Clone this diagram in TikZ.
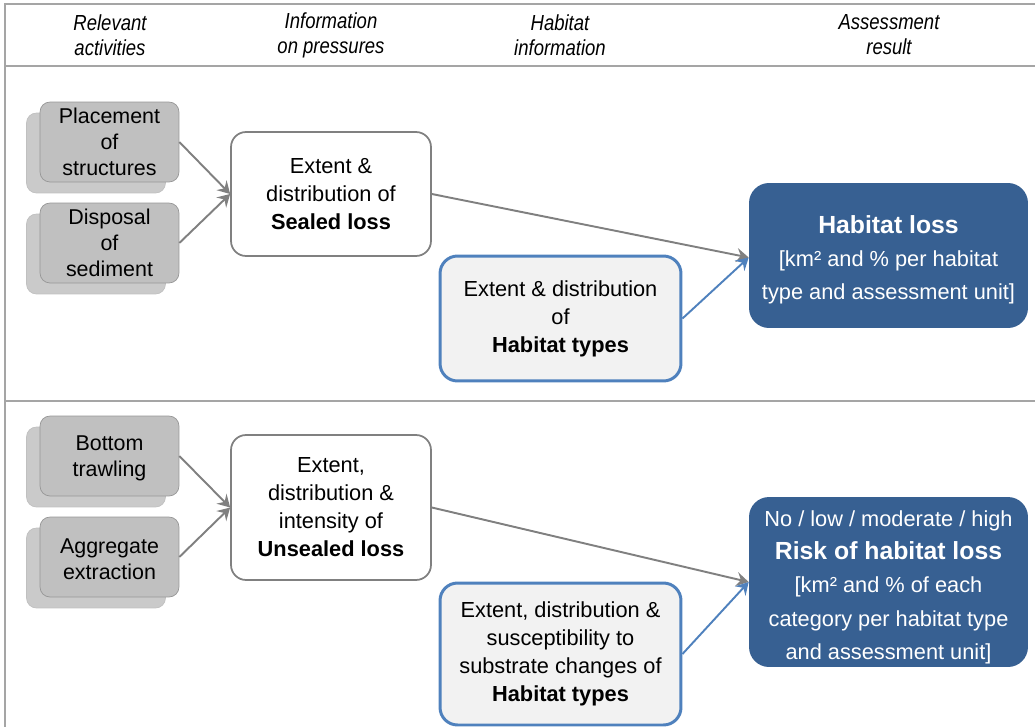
\documentclass[tikz,border=0pt]{standalone}
\usepackage{fontspec}
\setmainfont{Liberation Sans}
\newfontfamily\headfont[FakeStretch=0.85]{Liberation Sans}
\usepackage{tikz}
\usetikzlibrary{arrows,positioning,calc,arrows.meta}
\tikzset{>={Stealth[length=7pt,width=8pt,inset=2.5pt]}}
\definecolor{framegray}{RGB}{165,165,165}
\definecolor{arrgray}{RGB}{128,128,128}
\definecolor{actfill}{RGB}{192,192,192}
\definecolor{actback}{RGB}{202,202,202}
\definecolor{actline}{RGB}{150,150,150}
\definecolor{habblue}{RGB}{79,129,189}
\definecolor{resnavy}{RGB}{55,96,146}
\definecolor{habfill}{RGB}{242,242,242}
\colorlet{pressline}{arrgray}
\tikzset{
  actbox/.style={draw=actline,fill=actfill,rounded corners=0.2cm,minimum width=2.78cm,minimum height=1.6cm,inner sep=0pt,align=center,font=\fontsize{12.2}{14.7}\selectfont},
  actshadow/.style={actbox,draw=actline!60,fill=actback},
  pressbox/.style={draw=pressline,line width=1pt,fill=white,rounded corners=0.3cm,minimum width=4cm,inner sep=0pt,align=center,font=\fontsize{12.4}{15.9}\selectfont},
  habbox/.style={draw=habblue,line width=1.7pt,fill=habfill,rounded corners=0.35cm,minimum width=4.82cm,inner sep=0pt,align=center,font=\fontsize{12.4}{15.9}\selectfont},
  resbox/.style={fill=resnavy,text=white,rounded corners=0.4cm,minimum width=5.58cm,inner sep=0pt,align=center,font=\fontsize{12.4}{18.9}\selectfont},
  colhead/.style={align=center,font=\headfont\itshape\fontsize{12.4}{14.2}\selectfont},
  grayarr/.style={->,line width=1.1pt,arrgray},
  bluearr/.style={->,line width=1.1pt,habblue}
}
\begin{document}
\begin{tikzpicture}[x=0.02cm,y=-0.02cm]
    \useasboundingbox (0,0) rectangle (1035,727);
    % frame and rows
    \draw [framegray,line width=1.2pt] (1035,4) -- (5,4) -- (5,727);
    \draw [framegray,line width=1.2pt] (5,66) -- (1035,66);
    \draw [framegray,line width=1.2pt] (5,401) -- (1035,401);
    \node[colhead] at (110,35) (hact) {Relevant\\activities};
    \node[colhead] at (331,35) (hpress) {Information\\on pressures};
    \node[colhead] at (560,35) (hhab) {Habitat\\information};
    \node[colhead] at (889,35) (hres) {Assessment\\result};
    % sealed loss
    \node[actshadow] at (96,153) (placeb) {};
    \node[actbox] at (109.5,142) (place) {Placement\\of\\structures};
    \node[actshadow] at (96,254) (dispb) {};
    \node[actbox] at (109.5,243) (disp) {Disposal\\of\\sediment};
    \node[pressbox,minimum height=2.48cm] at (331,194) (sealed) {Extent \&\\distribution of\\\textbf{Sealed loss}};
    \node[habbox,minimum height=2.5cm] at (560.5,318.5) (habA) {Extent \& distribution\\of\\\textbf{Habitat types}};
    \node[resbox,minimum height=2.9cm] at (888.5,255.5) (loss) {\rule{0pt}{15pt}{\bfseries\fontsize{14.1}{18.9}\selectfont Habitat loss}\\{}[km² and \% per habitat\\type and assessment unit]};
    \draw [grayarr] (place.east) -- (sealed.west);
    \draw [grayarr] (disp.east) -- (sealed.west);
    \draw [grayarr] (sealed.east) -- ($(loss.west)+(0,2)$);
    \draw [bluearr] (habA.east) -- ($(loss.west)+(0,2)$);
    % unsealed loss
    \node[actshadow] at (96,467) (trawlb) {};
    \node[actbox] at (109.5,456) (trawl) {\rule{0pt}{11.5pt}Bottom\\trawling};
    \node[actshadow] at (96,568) (aggrb) {};
    \node[actbox] at (109.5,557) (aggr) {\rule{0pt}{10.5pt}Aggregate\\extraction};
    \node[pressbox,minimum height=2.9cm] at (331,507.5) (unsealed) {Extent,\\distribution \&\\intensity of\\\textbf{Unsealed loss}};
    \node[habbox,minimum height=2.84cm] at (560.5,654) (habB) {Extent, distribution \&\\susceptibility to\\substrate changes of\\\textbf{Habitat types}};
    \node[resbox,minimum height=3.4cm] at (888.5,582) (risk) {\rule{0pt}{15pt}No / low / moderate / high\\{\bfseries\fontsize{14.1}{18.9}\selectfont Risk of habitat loss}\\{}[km² and \% of each\\category per habitat type\\and assessment unit]};
    \draw [grayarr] (trawl.east) -- (unsealed.west);
    \draw [grayarr] (aggr.east) -- (unsealed.west);
    \draw [grayarr] (unsealed.east) -- (risk.west);
    \draw [bluearr] (habB.east) -- (risk.west);
\end{tikzpicture}
\end{document}
